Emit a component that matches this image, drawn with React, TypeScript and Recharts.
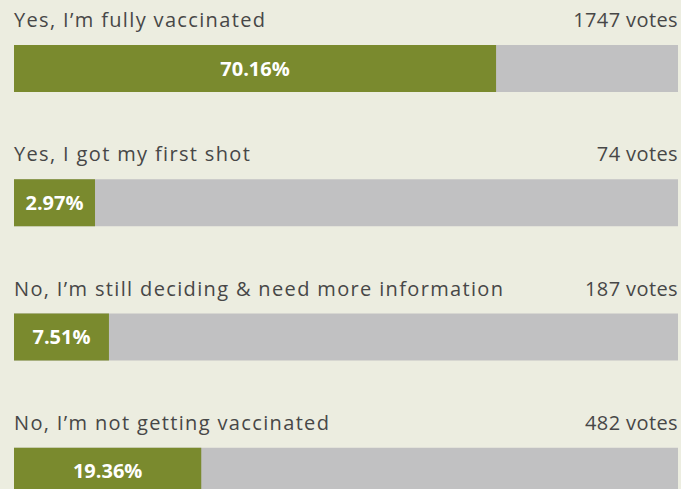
import { BarChart, Bar, XAxis, YAxis, LabelList } from 'recharts';

document.body.style.margin = '0';

const options = [
  'Yes, I’m fully vaccinated',
  'Yes, I got my first shot',
  'No, I’m still deciding & need more information',
  'No, I’m not getting vaccinated',
];
const votes = [1747, 74, 187, 482];
const percents = [70.16, 2.97, 7.51, 19.36];
// filled length of each bar as drawn, in % of the track
const fillShare = [72.6, 12.2, 14.3, 28.2];

const data = options.map((option, i) => ({
  option,
  votes: votes[i],
  pct: percents[i],
  share: fillShare[i],
}));

const FONT = '"Open Sans", sans-serif';

const PollBar = (props: any) => {
  const { x, y, width, height, payload, background } = props;
  const track = background || { x, y, width: 664, height };
  return (
    <g>
      <rect x={track.x} y={track.y} width={track.width} height={track.height} fill="#c1c1c2" />
      <rect x={x} y={y} width={width} height={height} fill="#7a8a2e" />
      <text x={track.x} y={y - 18} fill="#474747" fontSize={20} fontFamily={FONT} letterSpacing={1.35}>
        {payload.option}
      </text>
      <text
        x={track.x + track.width}
        y={y - 18}
        fill="#474747"
        fontSize={20}
        fontFamily={FONT}
        letterSpacing={0.4}
        textAnchor="end"
      >
        {payload.votes} votes
      </text>
    </g>
  );
};

export default function App() {
  return (
    <div style={{ width: 681, height: 489, overflow: 'hidden', background: '#ecede0' }}>
      <BarChart
        width={681}
        height={540}
        data={data}
        layout="vertical"
        margin={{ top: 1, right: 3, bottom: 2, left: 14 }}
      >
        <XAxis type="number" domain={[0, 100]} hide />
        <YAxis type="category" dataKey="option" hide />
        <Bar dataKey="share" fill="#7a8a2e" barSize={47} shape={PollBar} isAnimationActive={false}>
          <LabelList
            dataKey="pct"
            position="center"
            fill="#ffffff"
            fontSize={20}
            fontWeight="bold"
            fontFamily={FONT}
            formatter={(v: any) => `${Number(v).toFixed(2)}%`}
          />
        </Bar>
      </BarChart>
    </div>
  );
}
